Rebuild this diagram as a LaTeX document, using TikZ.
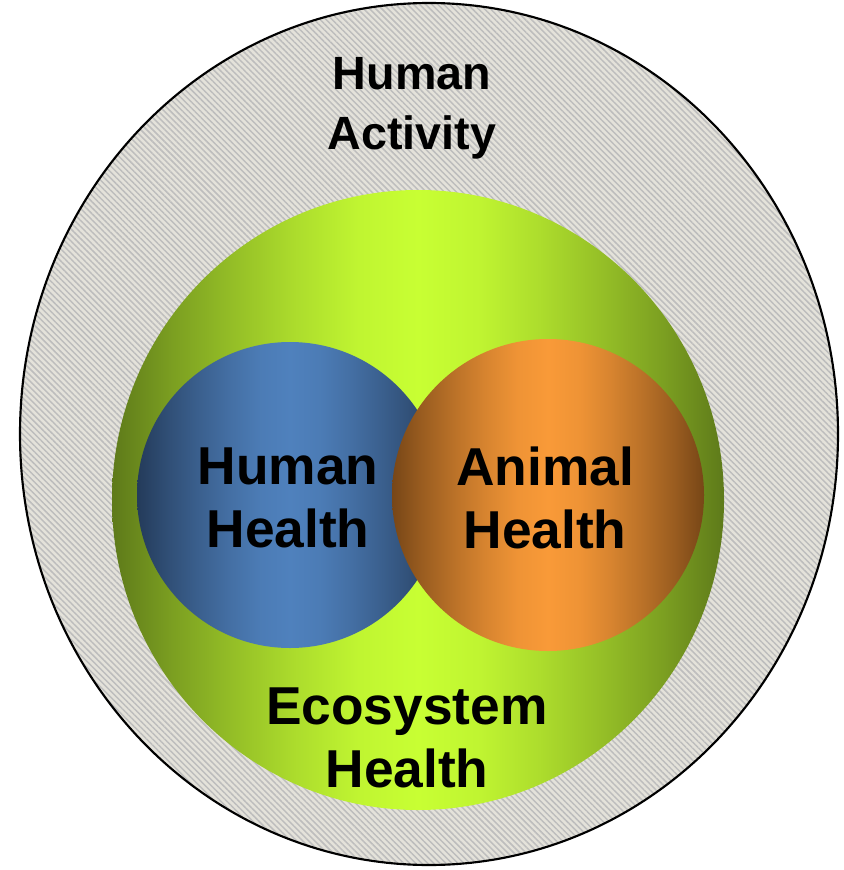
\documentclass[tikz,border=0pt]{standalone}
\usepackage{fontspec}
\setmainfont{Liberation Sans}
\usetikzlibrary{patterns.meta}
\definecolor{ringbg}{HTML}{E4E2DA}
\definecolor{ringline}{HTML}{BDBDBD}
\definecolor{greenedge}{HTML}{5E7A1A}
\definecolor{greenmid}{HTML}{C8FF33}
\definecolor{blueedge}{HTML}{243B5A}
\definecolor{bluemid}{HTML}{4F81BD}
\definecolor{orangeedge}{HTML}{774617}
\definecolor{orangemid}{HTML}{F99A38}
\pgfdeclarehorizontalshading{greensh}{100bp}{color(0bp)=(greenedge); color(25bp)=(greenedge); color(30bp)=(greenedge!72!greenmid); color(35bp)=(greenedge!48!greenmid); color(40bp)=(greenedge!26!greenmid); color(45bp)=(greenedge!8!greenmid); color(50bp)=(greenmid); color(55bp)=(greenedge!8!greenmid); color(60bp)=(greenedge!26!greenmid); color(65bp)=(greenedge!48!greenmid); color(70bp)=(greenedge!72!greenmid); color(75bp)=(greenedge); color(100bp)=(greenedge)}
\pgfdeclarehorizontalshading{bluesh}{100bp}{color(0bp)=(blueedge); color(25bp)=(blueedge); color(30bp)=(blueedge!72!bluemid); color(35bp)=(blueedge!48!bluemid); color(40bp)=(blueedge!26!bluemid); color(45bp)=(blueedge!8!bluemid); color(50bp)=(bluemid); color(55bp)=(blueedge!8!bluemid); color(60bp)=(blueedge!26!bluemid); color(65bp)=(blueedge!48!bluemid); color(70bp)=(blueedge!72!bluemid); color(75bp)=(blueedge); color(100bp)=(blueedge)}
\pgfdeclarehorizontalshading{orangesh}{100bp}{color(0bp)=(orangeedge); color(25bp)=(orangeedge); color(30bp)=(orangeedge!72!orangemid); color(35bp)=(orangeedge!48!orangemid); color(40bp)=(orangeedge!26!orangemid); color(45bp)=(orangeedge!8!orangemid); color(50bp)=(orangemid); color(55bp)=(orangeedge!8!orangemid); color(60bp)=(orangeedge!26!orangemid); color(65bp)=(orangeedge!48!orangemid); color(70bp)=(orangeedge!72!orangemid); color(75bp)=(orangeedge); color(100bp)=(orangeedge)}
\tikzset{
  lbl/.style={align=center, text=black},
}
\begin{document}
\begin{tikzpicture}[x=0.75pt,y=-0.75pt]
\useasboundingbox (0,0) rectangle (843,870);
% outer ring
\fill[ringbg] (429,434) ellipse [x radius=409, y radius=431];
\path[pattern={Lines[angle=-45,distance=3.2pt,line width=1.1pt]}, pattern color=ringline] (429,434) ellipse [x radius=409, y radius=431];
\draw[line width=1.6pt] (429,434) ellipse [x radius=409, y radius=431];
% ecosystem
\shade[shading=greensh] (418,500) ellipse [x radius=306, y radius=310];
% human health
\shade[shading=bluesh] (290,495) circle [radius=153];
% animal health
\shade[shading=orangesh] (548,495) circle [radius=156];
% labels
\node[lbl, font=\fontsize{35}{45}\selectfont\bfseries] (act) at (412,108) {Human\\Activity};
\node[lbl, font=\fontsize{40}{47}\selectfont\bfseries] (hh) at (288,498) {Human\\Health};
\node[lbl, font=\fontsize{40}{47}\selectfont\bfseries] (ah) at (545,498) {Animal\\Health};
\node[lbl, font=\fontsize{40}{47}\selectfont\bfseries] (eh) at (407,738) {Ecosystem\\Health};
\end{tikzpicture}
\end{document}
